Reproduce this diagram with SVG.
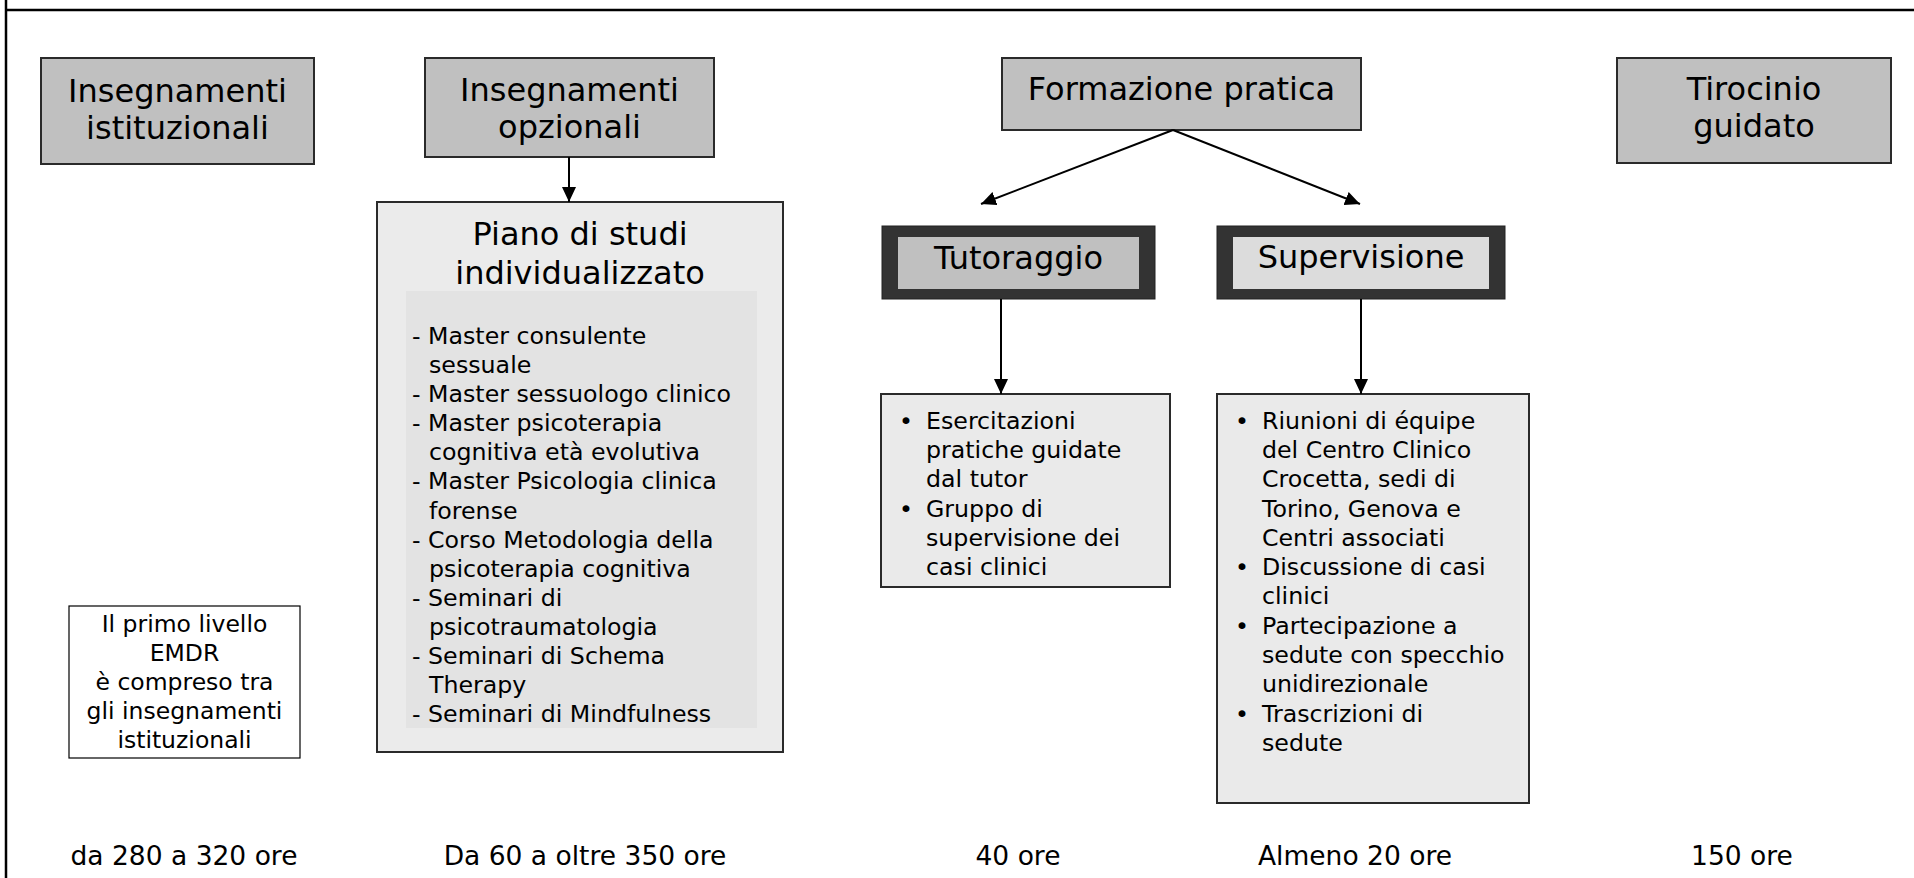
<svg xmlns="http://www.w3.org/2000/svg" width="1914" height="878" viewBox="0 0 1914 878">
<defs>
<style>
text{font-family:"DejaVu Sans","Liberation Sans",sans-serif;fill:#000}
.h{font-size:32px;text-anchor:middle}
.l{font-size:23.7px}
.c{font-size:23.5px;text-anchor:middle}
.b{font-size:26.5px;text-anchor:middle}
.hdr{fill:#c0c0c0;stroke:#2a2a2a;stroke-width:2}
.lst{fill:#eaeaea;stroke:#2a2a2a;stroke-width:2}
.dark{fill:#333333;stroke:#222;stroke-width:1}
.conn line{stroke:#000;stroke-width:2;marker-end:url(#ah)}
</style>
<marker id="ah" markerUnits="userSpaceOnUse" markerWidth="16" markerHeight="14" refX="15" refY="7" orient="auto">
<path d="M0,0 L15,7 L0,14 z" fill="#000"/>
</marker>
</defs>
<rect x="0" y="0" width="1914" height="878" fill="#fff"/>
<g id="frame">
<line x1="6" y1="0" x2="6" y2="878" stroke="#000" stroke-width="2.5"/>
<line x1="5" y1="10" x2="1914" y2="10" stroke="#000" stroke-width="2.5"/>
</g>

<g id="n-istituzionali">
<rect class="hdr" x="41" y="58" width="273" height="106"/>
<text class="h" x="177.5" y="101.5">Insegnamenti</text>
<text class="h" x="177.5" y="139">istituzionali</text>
</g>

<g id="n-opzionali">
<rect class="hdr" x="425" y="58" width="289" height="99"/>
<text class="h" x="569.5" y="101">Insegnamenti</text>
<text class="h" x="569.5" y="138">opzionali</text>
</g>

<g id="n-formazione">
<rect class="hdr" x="1002" y="58" width="359" height="72"/>
<text class="h" x="1181.5" y="100">Formazione pratica</text>
</g>

<g id="n-tirocinio">
<rect class="hdr" x="1617" y="58" width="274" height="105"/>
<text class="h" x="1754" y="100">Tirocinio</text>
<text class="h" x="1754" y="137">guidato</text>
</g>

<g id="n-tutoraggio">
<rect class="dark" x="882" y="226" width="273" height="73"/>
<rect x="898" y="237" width="241" height="52" fill="#c0c0c0"/>
<text class="h" x="1018.5" y="269">Tutoraggio</text>
</g>

<g id="n-supervisione">
<rect class="dark" x="1217" y="226" width="288" height="73"/>
<rect x="1233" y="237" width="256" height="52" fill="#dcdcdc"/>
<text class="h" x="1361" y="268">Supervisione</text>
</g>

<g id="n-piano">
<rect x="377" y="202" width="406" height="550" fill="#ebebeb" stroke="#2a2a2a" stroke-width="2"/>
<rect x="406" y="291" width="351" height="437" fill="#e3e3e3"/>
<text class="h" x="580" y="245">Piano di studi</text>
<text class="h" x="580" y="284">individualizzato</text>
<text class="l" x="412" y="344">- Master consulente</text>
<text class="l" x="429" y="373">sessuale</text>
<text class="l" x="412" y="402">- Master sessuologo clinico</text>
<text class="l" x="412" y="431">- Master psicoterapia</text>
<text class="l" x="429" y="460">cognitiva età evolutiva</text>
<text class="l" x="412" y="489">- Master Psicologia clinica</text>
<text class="l" x="429" y="519">forense</text>
<text class="l" x="412" y="548">- Corso Metodologia della</text>
<text class="l" x="429" y="577">psicoterapia cognitiva</text>
<text class="l" x="412" y="606">- Seminari di</text>
<text class="l" x="429" y="635">psicotraumatologia</text>
<text class="l" x="412" y="664">- Seminari di Schema</text>
<text class="l" x="429" y="693">Therapy</text>
<text class="l" x="412" y="722">- Seminari di Mindfulness</text>
</g>

<g id="n-tutor-list">
<rect class="lst" x="881" y="394" width="289" height="193"/>
<text class="l" x="899" y="429">•</text>
<text class="l" x="926" y="429">Esercitazioni</text>
<text class="l" x="926" y="458">pratiche guidate</text>
<text class="l" x="926" y="487">dal tutor</text>
<text class="l" x="899" y="517">•</text>
<text class="l" x="926" y="517">Gruppo di</text>
<text class="l" x="926" y="546">supervisione dei</text>
<text class="l" x="926" y="575">casi clinici</text>
</g>

<g id="n-superv-list">
<rect class="lst" x="1217" y="394" width="312" height="409"/>
<text class="l" x="1235" y="429">•</text>
<text class="l" x="1262" y="429">Riunioni di équipe</text>
<text class="l" x="1262" y="458">del Centro Clinico</text>
<text class="l" x="1262" y="487">Crocetta, sedi di</text>
<text class="l" x="1262" y="517">Torino, Genova e</text>
<text class="l" x="1262" y="546">Centri associati</text>
<text class="l" x="1235" y="575">•</text>
<text class="l" x="1262" y="575">Discussione di casi</text>
<text class="l" x="1262" y="604">clinici</text>
<text class="l" x="1235" y="634">•</text>
<text class="l" x="1262" y="634">Partecipazione a</text>
<text class="l" x="1262" y="663">sedute con specchio</text>
<text class="l" x="1262" y="692">unidirezionale</text>
<text class="l" x="1235" y="722">•</text>
<text class="l" x="1262" y="722">Trascrizioni di</text>
<text class="l" x="1262" y="751">sedute</text>
</g>

<g id="n-emdr">
<rect x="69" y="606" width="231" height="152" fill="#fff" stroke="#000" stroke-width="1.2"/>
<text class="c" x="184.5" y="632">Il primo livello</text>
<text class="c" x="184.5" y="661">EMDR</text>
<text class="c" x="184.5" y="690">è compreso tra</text>
<text class="c" x="184.5" y="719">gli insegnamenti</text>
<text class="c" x="184.5" y="748">istituzionali</text>
</g>

<g id="hours">
<text class="b" x="184" y="865">da 280 a 320 ore</text>
<text class="b" x="585" y="865">Da 60 a oltre 350 ore</text>
<text class="b" x="1018" y="865">40 ore</text>
<text class="b" x="1355" y="865">Almeno 20 ore</text>
<text class="b" x="1742" y="865">150 ore</text>
</g>

<g id="connectors" class="conn">
<line x1="569" y1="157" x2="569" y2="202"/>
<line x1="1173" y1="130" x2="981" y2="204"/>
<line x1="1173" y1="130" x2="1360" y2="204"/>
<line x1="1001" y1="299" x2="1001" y2="394"/>
<line x1="1361" y1="299" x2="1361" y2="394"/>
</g>
</svg>
